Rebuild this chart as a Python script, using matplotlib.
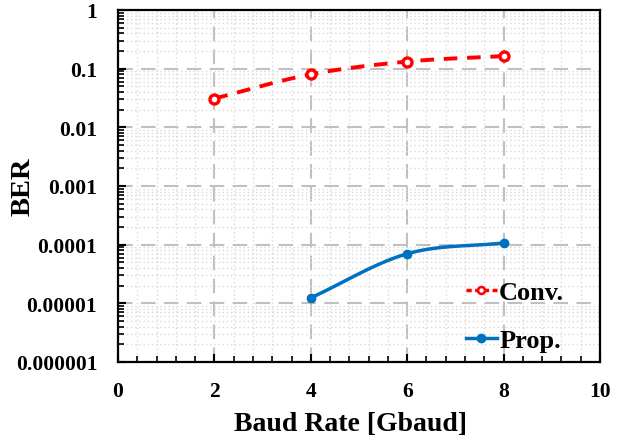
import numpy as np
import matplotlib
matplotlib.use('Agg')
import matplotlib.pyplot as plt
from matplotlib.ticker import FixedLocator, MultipleLocator, LogLocator, NullFormatter

plt.rcParams['font.family'] = ['Liberation Serif', 'DejaVu Serif']
plt.rcParams['font.weight'] = 'bold'

# BER vs baud rate
conv_rate = [2, 4, 6, 8]
conv_ber = [0.031, 0.080, 0.132, 0.164]
prop_rate = [4, 6, 8]
prop_ber = [1.24e-5, 7.0e-5, 1.07e-4]

y_ticks = [1e-6, 1e-5, 1e-4, 1e-3, 1e-2, 1e-1, 1]
y_labels = ['0.000001', '0.00001', '0.0001', '0.001', '0.01', '0.1', '1']


def smooth(x, y, n=30):
    # Catmull-Rom style smoothing in log-y, like a spreadsheet "smoothed line"
    x = np.asarray(x, float)
    ly = np.log10(y)
    if len(x) < 3:
        return x, np.asarray(y)
    px = np.concatenate([[2 * x[0] - x[1]], x, [2 * x[-1] - x[-2]]])
    py = np.concatenate([[2 * ly[0] - ly[1]], ly, [2 * ly[-1] - ly[-2]]])
    xs, ys = [], []
    t = np.linspace(0, 1, n)
    for i in range(1, len(px) - 2):
        for arr, out in ((px, xs), (py, ys)):
            p0, p1, p2, p3 = arr[i - 1], arr[i], arr[i + 1], arr[i + 2]
            seg = 0.5 * ((2 * p1) + (-p0 + p2) * t + (2 * p0 - 5 * p1 + 4 * p2 - p3) * t ** 2
                         + (-p0 + 3 * p1 - 3 * p2 + p3) * t ** 3)
            out.extend(seg)
    return np.array(xs), 10 ** np.array(ys)


fig = plt.figure(figsize=(6.23, 4.39), dpi=100)
ax = fig.add_axes([118 / 623, 1 - 363 / 439, (600 - 118) / 623, (363 - 11) / 439])

ax.set_yscale('log')
ax.set_xlim(0, 10)
ax.set_ylim(1e-6, 1)

red = '#ff0000'
blue = '#0070c0'
sx, sy = smooth(conv_rate, conv_ber)
ax.plot(sx, sy, color=red, lw=2.8, ls=(0, (3.5, 2.5)))
ax.plot(conv_rate, conv_ber, ls='none', marker='o', ms=6.5, mfc='white', mec=red, mew=2.4)
ax.plot([], [], color=red, lw=2.5, ls=(0, (1.5, 1)), marker='o', ms=5, mfc='white', mec=red, mew=1.8, label='Conv.')

sx, sy = smooth(prop_rate, prop_ber)
ax.plot(sx, sy, color=blue, lw=2.5)
ax.plot(prop_rate, prop_ber, ls='none', marker='o', ms=6, color=blue)
ax.plot([], [], color=blue, lw=2.5, marker='o', ms=6, label='Prop.')

ax.yaxis.set_major_locator(FixedLocator(y_ticks))
ax.set_yticklabels(y_labels)
ax.yaxis.set_minor_locator(LogLocator(base=10, subs=np.arange(2, 10), numticks=20))
ax.yaxis.set_minor_formatter(NullFormatter())
ax.xaxis.set_major_locator(MultipleLocator(2))
ax.xaxis.set_minor_locator(MultipleLocator(0.4))

ax.grid(which='major', color='#c0c0c0', lw=1.5, ls=(0, (7, 4)))
ax.grid(which='minor', color='#d9d9d9', lw=1.0, ls=(0, (1, 2)))
ax.set_axisbelow(True)

for s in ax.spines.values():
    s.set_linewidth(1.6)
ax.tick_params(which='major', direction='in', length=6, width=1.5, labelsize=15.5)
ax.tick_params(which='minor', direction='in', length=4, width=1.2)
ax.tick_params(axis='y', pad=15)
ax.tick_params(axis='x', pad=14)

ax.set_xlabel('Baud Rate [Gbaud]', fontsize=20, fontweight='bold')
ax.set_ylabel('BER', fontsize=20.5, fontweight='bold')
ax.xaxis.set_label_coords(0.482, -0.138)
ax.yaxis.set_label_coords(-0.172, 0.5)

ax.legend(loc='lower right', bbox_to_anchor=(0.975, -0.04), frameon=False, fontsize=19,
          handlelength=1.15, handletextpad=0.1, labelspacing=0.95)

fig.savefig('out.png', dpi=100)
